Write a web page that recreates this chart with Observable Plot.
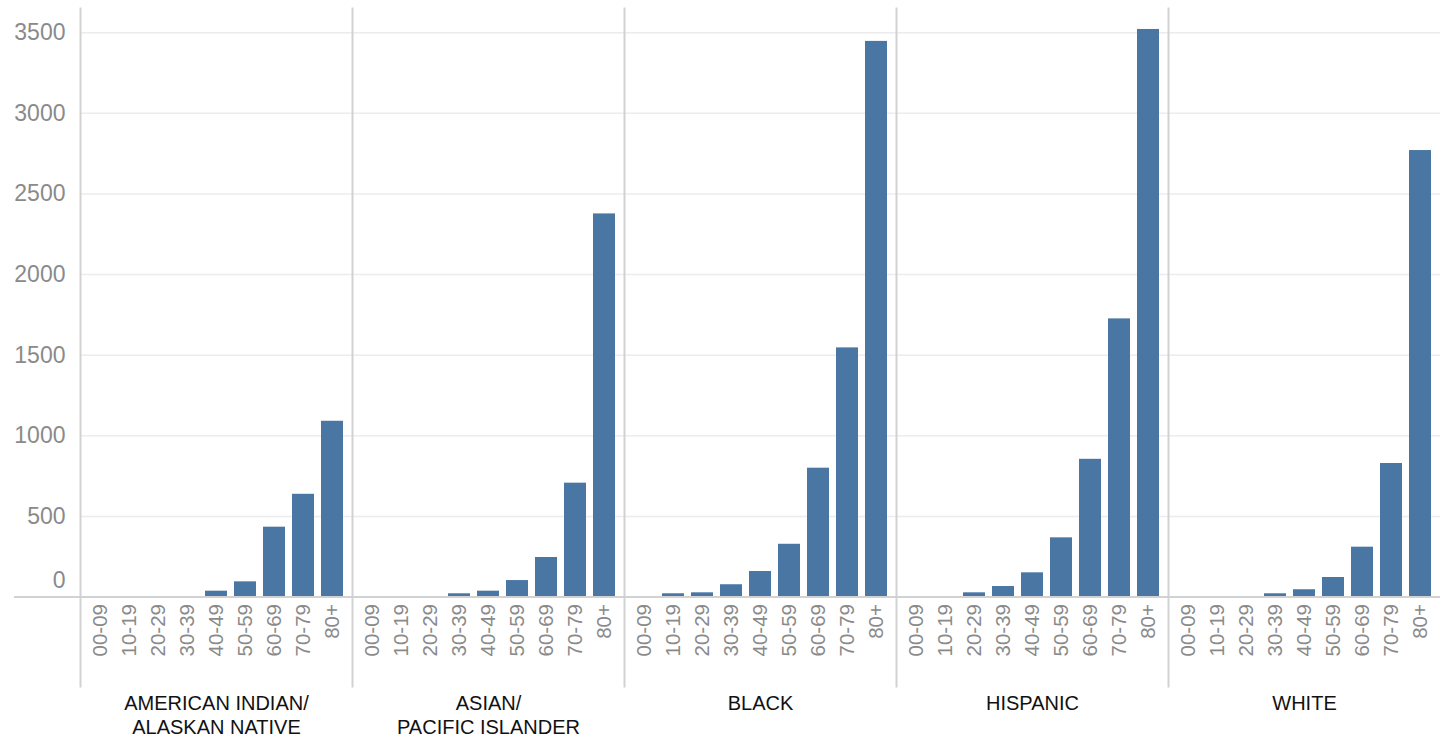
<!DOCTYPE html>
<html>
<head>
<meta charset="utf-8">
<script src="https://cdn.jsdelivr.net/npm/d3@7"></script>
<script src="https://cdn.jsdelivr.net/npm/@observablehq/plot@0.6"></script>
<style>
  html, body { margin: 0; padding: 0; background: #fff; }
  #chart svg { display: block; }
</style>
</head>
<body>
<div id="chart"></div>
<script>
// Age groups shown within each panel
const ages = ["00-09", "10-19", "20-29", "30-39", "40-49", "50-59", "60-69", "70-79", "80+"];

// Race / ethnicity panels (labels may wrap onto two lines)
const races = [
  "AMERICAN INDIAN/\nALASKAN NATIVE",
  "ASIAN/\nPACIFIC ISLANDER",
  "BLACK",
  "HISPANIC",
  "WHITE"
];

// Counts per age group, one array per panel
const americanIndian = [0, 0, 0, 0, 36, 94, 433, 637, 1090];
const asianPacific   = [0, 0, 0, 20, 36, 102, 245, 706, 2376];
const black          = [0, 20, 26, 76, 158, 327, 799, 1545, 3446];
const hispanic       = [0, 0, 26, 65, 150, 367, 854, 1725, 3520];
const white          = [0, 0, 0, 20, 45, 121, 309, 828, 2769];

// Value axis ticks
const yTicks = [500, 1000, 1500, 2000, 2500, 3000, 3500];

const series = [americanIndian, asianPacific, black, hispanic, white];
const rows = races.flatMap((race, r) =>
  ages.map((age, a) => ({race, age, value: series[r][a]}))
).filter(d => d.value > 0);

const tickGrey = "#8a8a8a";
const lineGrey = "#d2d2d2";

const chart = Plot.plot({
  width: 1450,
  height: 740,
  marginLeft: 78,
  marginRight: 9,
  marginTop: 8,
  marginBottom: 143.5,
  style: {fontFamily: "'Liberation Sans', Arial, sans-serif", background: "#fff"},
  fx: {domain: races, padding: 0, label: null},
  x: {domain: ages, padding: 0.24, label: null},
  y: {domain: [0, 3650], label: null},
  marks: [
    Plot.gridY(yTicks, {stroke: "#ececec", strokeOpacity: 1, strokeWidth: 1.5}),
    Plot.barY(rows, {fx: "race", x: "age", y: "value", fill: "#4a76a4"}),
    // panel dividers, running down through the age labels
    Plot.frame({anchor: "left", stroke: lineGrey, strokeOpacity: 1, strokeWidth: 2, insetBottom: -89.5}),
    // baseline
    Plot.ruleY([0], {stroke: lineGrey, strokeWidth: 2}),
    // baseline extension to the left of the value axis
    Plot.axisY([0], {tickSize: 66, tickFormat: () => "", stroke: lineGrey, strokeWidth: 2, strokeOpacity: 1}),
    Plot.axisY(yTicks, {tickSize: 0, tickPadding: 15, fontSize: 23, fill: tickGrey, tickFormat: d => String(d)}),
    Plot.axisY([0], {tickSize: 0, tickPadding: 15, fontSize: 23, fill: tickGrey, dy: -16, tickFormat: d => String(d)}),
    Plot.axisX(ages, {tickSize: 0, tickPadding: 7, tickRotate: -90, fontSize: 20.5, fill: tickGrey}),
    Plot.axisFx({anchor: "bottom", tickSize: 0, tickPadding: 95.5, fontSize: 20, fill: "#111", lineHeight: 1.2, label: null})
  ]
});

document.getElementById("chart").append(chart);
</script>
</body>
</html>
